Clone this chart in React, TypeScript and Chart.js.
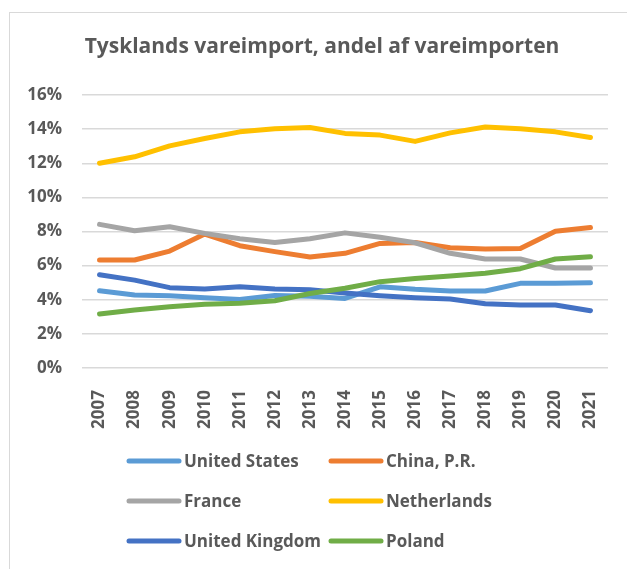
import React, { useEffect, useRef } from "react";
import { Chart, registerables } from "chart.js";

Chart.register(...registerables);

const titleText = "Tysklands vareimport, andel af vareimporten";
const years = ["2007", "2008", "2009", "2010", "2011", "2012", "2013", "2014", "2015", "2016", "2017", "2018", "2019", "2020", "2021"];
const seriesNames = ["United States", "China, P.R.", "France", "Netherlands", "United Kingdom", "Poland"];
const seriesColors = ["#5B9BD5", "#ED7D31", "#A5A5A5", "#FFC000", "#4472C4", "#70AD47"];
const unitedStates = [4.53, 4.28, 4.24, 4.12, 4.02, 4.25, 4.2, 4.08, 4.76, 4.61, 4.51, 4.51, 4.96, 4.96, 5.0];
const china = [6.33, 6.33, 6.85, 7.85, 7.17, 6.82, 6.5, 6.72, 7.3, 7.36, 7.05, 6.97, 7.0, 8.02, 8.24];
const france = [8.42, 8.04, 8.28, 7.89, 7.58, 7.36, 7.58, 7.92, 7.66, 7.34, 6.72, 6.39, 6.39, 5.86, 5.86];
const netherlands = [12.0, 12.38, 13.02, 13.45, 13.84, 14.02, 14.1, 13.75, 13.65, 13.28, 13.78, 14.12, 14.02, 13.84, 13.51];
const unitedKingdom = [5.47, 5.15, 4.71, 4.63, 4.76, 4.63, 4.59, 4.4, 4.24, 4.12, 4.04, 3.77, 3.69, 3.69, 3.36];
const poland = [3.16, 3.4, 3.59, 3.73, 3.79, 3.94, 4.37, 4.67, 5.06, 5.25, 5.39, 5.55, 5.82, 6.39, 6.52];
const seriesValues = [unitedStates, china, france, netherlands, unitedKingdom, poland];
const yMin = 0;
const yMax = 16;
const yStep = 2;

const FONT = "'Open Sans', 'Noto Sans', sans-serif";
const TEXT = "#595959";

const decorPlugin = {
  id: "decor",
  beforeDraw(chart: any) {
    const ctx = chart.ctx;
    ctx.save();
    ctx.fillStyle = "#ffffff";
    ctx.fillRect(0, 0, chart.width, chart.height);
    ctx.strokeStyle = "#D9D9D9";
    ctx.lineWidth = 1;
    ctx.strokeRect(9.5, 12.5, chart.width + 20, chart.height + 20);
    ctx.restore();
  },
  afterDraw(chart: any) {
    const ctx = chart.ctx;
    ctx.save();
    ctx.fillStyle = TEXT;
    ctx.font = `bold 21px ${FONT}`;
    ctx.textAlign = "center";
    ctx.textBaseline = "middle";
    ctx.fillText(titleText, 322, 47);

    // legend in 2-column grid
    const cols = [127, 329];
    const rows = [461, 501, 541];
    ctx.font = `bold 17px ${FONT}`;
    ctx.textAlign = "left";
    ctx.textBaseline = "middle";
    chart.data.datasets.forEach((ds: any, i: number) => {
      const c = cols[i % 2];
      const r = rows[Math.floor(i / 2)];
      ctx.strokeStyle = ds.borderColor;
      ctx.lineWidth = 5;
      ctx.lineCap = "round";
      ctx.beginPath();
      ctx.moveTo(c + 2, r);
      ctx.lineTo(c + 52, r);
      ctx.stroke();
      ctx.fillStyle = TEXT;
      ctx.fillText(ds.label, c + 57, r + 1);
    });
    ctx.restore();
  },
};

export default function App() {
  const ref = useRef<HTMLCanvasElement | null>(null);
  useEffect(() => {
    if (!ref.current) return;
    const chart = new Chart(ref.current, {
      type: "line",
      data: {
        labels: years,
        datasets: seriesNames.map((name, i) => ({
          label: name,
          data: seriesValues[i],
          borderColor: seriesColors[i],
          backgroundColor: seriesColors[i],
          borderWidth: 5,
          pointRadius: 0,
          tension: 0,
          borderCapStyle: "round" as const,
          borderJoinStyle: "round" as const,
          order: seriesNames.length - i,
        })),
      },
      options: {
        responsive: false,
        animation: false,
        layout: { padding: { left: 9, right: 19, top: 95, bottom: 130 } },
        plugins: {
          legend: { display: false },
          title: { display: false },
          tooltip: { enabled: false },
        },
        scales: {
          x: {
            offset: true,
            grid: { display: false },
            border: { display: false },
            ticks: {
              color: TEXT,
              font: { family: FONT, size: 17, weight: "bold" },
              minRotation: 90,
              maxRotation: 90,
              padding: 14,
              autoSkip: false,
            },
            afterFit(scale: any) {
              scale.height = 71;
            },
          },
          y: {
            min: yMin,
            max: yMax,
            grid: { color: "#D9D9D9", lineWidth: 1.5, drawTicks: false },
            border: { display: false },
            ticks: {
              stepSize: yStep,
              color: TEXT,
              font: { family: FONT, size: 17, weight: "bold" },
              padding: 20,
              callback: (v: any) => `${v}%`,
            },
            afterFit(scale: any) {
              scale.width = 73;
            },
          },
        },
      },
      plugins: [decorPlugin],
    });
    return () => chart.destroy();
  }, []);
  return (
    <div style={{ position: "fixed", left: 0, top: 0, width: 627, height: 569, background: "#fff" }}>
      <canvas ref={ref} width={627} height={569} style={{ display: "block", width: 627, height: 569 }} />
    </div>
  );
}
